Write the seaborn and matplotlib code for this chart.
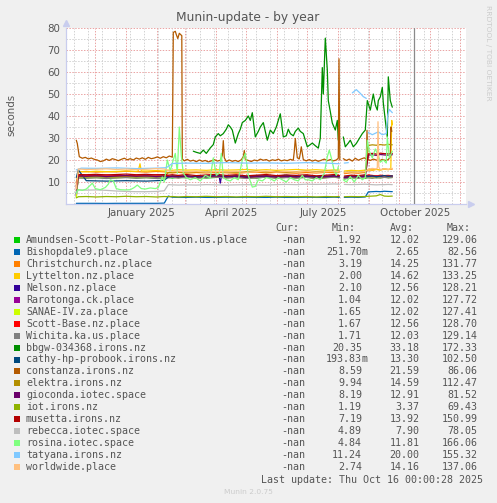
import numpy as np
import pandas as pd
import seaborn as sns
import matplotlib.pyplot as plt
from matplotlib.patches import Rectangle

nan = np.nan
start = pd.Timestamp("2025-01-01")   # day 0
now = pd.Timestamp("2025-10-16")

# day offsets (from 2025-01-01) shared by the flat-ish series
band_days = [-50, -48, -40, -30, -20, -10, 0, 10, 20, 30, 38, 42, 46, 52, 60, 70, 80, 90, 100, 110,
             120, 130, 140, 150, 160, 170, 180, 190, 200, 208, 213, 215, 218, 225, 232, 239, 242,
             246, 250, 254, 258, 262, 266]

amundsen = [4.5, 12.2, 12.0, 12.3, 11.9, 12.1, 12.4, 12.0, 12.2, 11.9, 12.3, 12.1, 11.8, 12.2, 11.9,
            12.4, 11.8, 12.1, 12.5, 11.9, 12.2, 11.8, 12.3, 12.0, 12.4, 11.9, 12.2, 11.7, 12.1, 12.5,
            12.0, nan, 11.4, 11.9, 12.3, 11.7, 12.1, 12.4, 11.9, 12.2, 12.5, 12.0, 12.3]
bishopdale = [0.3, 0.3, 0.3, 0.3, 0.25, 0.3, 0.3, 0.3, 0.3, 0.3, 0.4, 3.6, 3.1, 3.0, 3.0, 3.1, 3.0,
              3.0, 3.1, 3.0, 3.1, 3.0, 3.0, 3.1, 3.0, 3.0, 3.1, 3.0, 3.0, 3.1, 3.0, nan, 3.0, 3.1,
              3.0, 3.2, 5.5, 5.6, 5.7, 5.6, 5.8, 5.7, 5.6]
christchurch = [8.0, 14.6, 14.8, 14.5, 14.7, 14.6, 14.9, 14.7, 14.5, 14.8, 14.6, 14.3, 14.1, 14.4,
                14.0, 14.3, 14.1, 14.4, 14.2, 14.0, 14.3, 14.5, 14.1, 14.4, 14.2, 14.0, 14.3, 14.1,
                14.4, 14.2, 14.5, nan, 13.8, 14.2, 14.0, 14.4, 15.6, 15.4, 15.8, 15.5, 16.0, 15.7, 15.9]
rarotonga = [4.0, 12.4, 12.3, 12.5, 12.2, 12.4, 12.6, 12.3, 12.5, 12.2, 12.4, 12.1, 12.3, 12.0, 12.4,
             11.9, 12.2, 12.5, 12.0, 12.3, 11.8, 12.1, 12.4, 11.9, 12.2, 12.0, 12.3, 11.8, 12.1, 12.4,
             12.0, nan, 11.7, 12.1, 11.9, 12.3, 12.7, 12.4, 12.6, 12.2, 12.5, 12.3, 12.6]
sanae = [3.0, 11.9, 11.8, 12.0, 11.7, 11.9, 12.1, 11.8, 12.0, 11.7, 11.9, 12.0, 12.2, 11.9, 12.3,
         11.8, 12.1, 12.4, 11.9, 12.2, 11.7, 12.0, 12.3, 11.8, 12.1, 11.9, 12.2, 11.7, 12.0, 12.3,
         11.9, nan, 11.6, 12.0, 11.8, 12.2, 12.0, 11.8, 12.1, 11.9, 12.2, 12.0, 12.1]
scott_base = [6.0, 13.0, 13.1, 12.9, 13.2, 13.0, 12.8, 13.1, 13.0, 13.3, 13.1, 12.8, 12.5, 12.9, 12.3,
              12.6, 12.2, 12.7, 12.4, 12.8, 12.3, 12.6, 12.9, 12.4, 12.7, 12.3, 12.8, 12.5, 12.2, 12.6,
              12.9, nan, 12.0, 12.6, 12.3, 12.8, 13.2, 13.0, 12.7, 13.1, 12.9, 13.0, 12.8]
wichita = [5.0, 11.8, 11.7, 11.9, 11.6, 11.8, 12.0, 11.7, 11.9, 11.6, 11.8, 11.9, 12.1, 11.8, 12.2,
           11.7, 12.0, 12.3, 11.8, 12.1, 11.6, 11.9, 12.2, 11.7, 12.0, 11.8, 12.1, 11.6, 11.9, 12.2,
           11.8, nan, 11.5, 11.9, 11.7, 12.1, 11.9, 11.7, 12.0, 11.8, 12.1, 11.9, 12.0]
cathy = [12.0, 15.5, 10.6, 10.5, 10.4, 10.5, 10.6, 10.5, 10.4, 10.6, 10.8, 12.3, 12.8, 12.5, 12.9,
         12.4, 12.7, 13.0, 12.6, 12.8, 12.4, 12.9, 12.6, 12.7, 13.1, 12.5, 12.8, 12.4, 12.7, 12.9,
         12.6, nan, 12.3, 12.7, 12.5, 12.9, 12.6, 12.8, 12.4, 12.7, 12.9, 12.6, 12.8]
elektra = [10.0, 12.5, 12.4, 12.6, 12.5, 12.4, 12.6, 12.5, 12.7, 12.6, 12.8, 14.2, 14.5, 14.6, 14.4,
           14.7, 14.5, 14.8, 14.6, 14.5, 14.7, 14.9, 14.6, 14.8, 14.5, 14.7, 14.9, 14.6, 14.8, 15.0,
           14.7, nan, 14.3, 14.6, 14.4, 14.8, 26.6, 26.9, 26.7, 27.0, 26.8, 27.1, 26.9]
gioconda = [8.2, 12.7, 12.6, 12.8, 12.5, 12.7, 12.9, 12.6, 12.8, 12.5, 12.7, 12.4, 12.6, 12.3, 12.7,
            12.2, 12.5, 12.8, 12.3, 12.6, 12.1, 12.4, 12.7, 12.2, 12.5, 12.3, 12.6, 12.1, 12.4, 12.7,
            12.3, nan, 12.0, 12.4, 12.2, 12.6, 22.2, 22.4, 22.1, 22.5, 22.3, 22.2, 22.4]
iot = [2.8, 3.3, 3.4, 3.2, 3.4, 3.3, 3.5, 3.3, 3.4, 3.2, 3.4, 3.3, 3.4, 3.2, 3.4, 3.3, 3.5, 3.3,
       3.4, 3.2, 3.4, 3.3, 3.5, 3.3, 3.4, 3.3, 3.4, 3.2, 3.4, 3.3, 3.4, nan, 3.3, 3.4, 3.3, 3.4, 3.5,
       3.6, 3.7, 4.3, 3.6, 3.5, 3.6]
musetta = [7.2, 13.4, 13.3, 13.5, 13.2, 13.4, 13.6, 13.3, 13.5, 13.2, 13.4, 13.1, 13.3, 13.0, 13.4,
           12.9, 13.2, 13.5, 13.0, 13.3, 12.8, 13.1, 13.4, 12.9, 13.2, 13.0, 13.3, 12.8, 13.1, 13.4,
           13.0, nan, 12.7, 13.1, 12.9, 13.3, 22.8, 23.0, 22.7, 23.1, 22.9, 22.8, 23.0]
rebecca = [4.9, 6.4, 6.3, 6.4, 6.2, 5.9, 5.7, 5.6, 5.6, 5.7, 6.0, 8.8, 8.7, 8.6, 8.7, 8.6, 8.8, 8.7,
           8.6, 8.7, 8.8, 8.7, 8.6, 8.8, 8.9, 8.8, 9.0, 8.9, 9.0, 9.1, 9.0, nan, 8.9, 8.8, 8.9, 9.0,
           8.9, 8.8, 8.7, 8.8, 8.8, 8.9, 8.8]

nelson_days = [-50, -48, -40, -30, -20, -10, 0, 10, 20, 30, 38, 42, 46, 52, 60, 70, 80, 90, 93, 94,
               95, 100, 110, 120, 130, 140, 150, 160, 170, 180, 190, 200, 208, 213, 215, 218, 225,
               232, 239, 242, 246, 250, 254, 258, 262, 266]
nelson = [3.5, 12.6, 12.5, 12.7, 12.4, 12.6, 12.8, 12.5, 12.7, 12.4, 12.6, 12.3, 12.5, 12.2, 12.6,
          12.1, 12.4, 12.3, 12.2, 9.5, 12.3, 12.6, 12.2, 12.5, 12.0, 12.4, 12.1, 12.5, 12.2, 12.6,
          12.0, 12.3, 12.7, 12.2, nan, 11.9, 12.4, 12.1, 12.6, 12.9, 12.5, 12.8, 12.3, 12.7, 12.4, 12.6]

lyttelton_days = [-50, -48, -40, -30, -20, -10, 0, 10, 12, 13.7, 15, 20, 30, 38, 42, 46, 52, 60, 70,
                  80, 90, 100, 110, 120, 130, 140, 150, 160, 170, 180, 190, 200, 208, 213, 215, 218,
                  225, 232, 239, 242, 246, 250, 254, 258, 262, 264.5, 265.4, 266]
lyttelton = [9.0, 14.8, 14.6, 14.9, 14.7, 14.8, 15.0, 14.8, 15.1, 18.3, 15.0, 15.0, 15.2, 15.0, 15.4,
             15.3, 15.6, 15.4, 15.5, 15.3, 15.6, 15.4, 15.5, 15.7, 15.4, 15.6, 15.3, 15.5, 15.7, 15.4,
             15.6, 15.3, 15.5, 15.4, nan, 15.0, 15.3, 15.1, 15.4, 15.6, 15.4, 15.7, 15.5, 15.8, 15.6,
             16.0, 38.0, 36.0]

worldwide_days = [-50, -48, -40, -30, -20, -10, 0, 10, 20, 30, 38, 42, 46, 52, 60, 70, 80, 90, 100,
                  110, 120, 130, 140, 150, 160, 170, 180, 190, 200, 208, 213, 215, 218, 225, 232,
                  239, 242, 246, 250, 251, 251.7, 252.5, 254, 258, 262, 266]
worldwide = [7.0, 15.9, 15.7, 15.8, 16.0, 15.7, 15.9, 15.6, 15.8, 16.1, 15.9, 15.2, 14.8, 15.0, 14.6,
             14.9, 14.5, 14.8, 14.6, 14.9, 14.4, 14.7, 15.0, 14.5, 14.8, 14.6, 14.9, 14.4, 14.7, 15.0,
             14.6, nan, 14.2, 14.6, 14.4, 14.8, 15.8, 16.2, 15.9, 16.5, 37.4, 16.8, 15.6, 16.0, 15.7, 16.2]

tatyana_days = [-50, -45, -30, -10, 10, 30, 40, 46, 60, 80, 100, 120, 140, 160, 180, 200, 213, 215,
                218, 222, 224, 226, 230, 234, 237, 240, 241, 242, 246, 252, 256, 260, 261.5, 263, 266]
tatyana = [15.5, 16.3, 16.2, 16.4, 16.1, 16.3, 16.5, 18.4, 18.6, 18.5, 18.8, 18.6, 18.7, 18.5, 18.8,
           18.6, 18.3, nan, 18.6, 18.8, nan, 50.5, 52.0, 50.3, 48.8, 48.0, nan, 32.5, 31.5, 32.8,
           31.5, 32.0, 40.5, 43.0, 41.5]

constanza_days = [-50, -49, -47, -44, -41, -38, -35, -32, -29, -26, -23, -20, -17, -14, -11, -8, -5,
                  -2, 1, 4, 7, 10, 13, 16, 19, 22, 25, 28, 31, 34, 37, 40, 43, 46, 47, 49, 50, 51.5,
                  53, 55.5, 56, 58, 61, 64, 67, 70, 73, 76, 79, 82, 85, 88, 91, 94, 96, 97, 98, 100,
                  103, 106, 109, 112, 115, 117, 118, 119, 122, 125, 128, 131, 134, 137, 140, 143,
                  146, 149, 152, 155, 158, 161, 164, 167, 168, 169, 171, 173, 174, 175, 177, 180,
                  183, 186, 189, 192, 195, 198, 201, 204, 207, 210, 212, 212.7, 213.5, 215, 217,
                  220, 223, 226, 229, 232, 235, 238, 240, 240.7, 241.5, 244, 247, 250, 253, 256,
                  259, 262, 264, 264.5, 265.5]
constanza = [29.0, 27.5, 21.5, 20.8, 21.2, 20.5, 20.9, 20.3, 20.0, 19.3, 19.6, 20.4, 19.8, 20.6,
             20.2, 19.7, 20.3, 20.8, 20.1, 20.6, 20.0, 20.9, 20.4, 21.0, 20.3, 21.2, 20.6, 20.9, 21.4,
             20.8, 21.5, 21.0, 21.8, 21.3, 78.0, 78.5, 77.0, 75.2, 77.6, 76.5, 20.5, 19.6, 20.3, 19.5,
             19.9, 19.2, 20.0, 19.4, 19.8, 19.1, 19.6, 20.2, 19.5, 19.9, 22.0, 28.8, 21.0, 19.3, 20.0,
             19.4, 19.8, 19.3, 20.1, 21.5, 24.3, 20.3, 19.8, 19.3, 20.0, 19.6, 20.4, 19.9, 20.2, 19.5,
             20.1, 19.8, 20.4, 19.6, 20.0, 19.7, 20.3, 19.9, 24.0, 29.8, 21.0, 20.5, 23.0, 26.0, 20.2,
             19.6, 20.2, 19.5, 20.0, 19.4, 19.9, 20.4, 19.7, 20.2, 19.6, 20.0, 20.8, 66.0, 20.0, nan,
             20.6, 19.8, 20.4, 19.5, 20.8, 19.9, 20.5, 21.0, 20.3, 33.5, 20.2, 19.8, 20.4, 20.0, 19.6,
             20.3, 19.8, 20.2, 21.5, 35.0, 33.0]

bbgw_days = [67, 70, 74, 77, 80, 84, 87, 89, 92, 94, 97, 100, 102, 104, 106, 109, 112, 114, 116, 119,
             122, 124, 126, 129, 132, 134, 137, 139, 141, 144, 147, 150, 152, 154, 157, 160, 162,
             164, 167, 169, 172, 174, 177, 179, 181, 184, 186, 189, 192, 194, 196, 197, 199, 201,
             202, 204, 206, 209, 211, 212, 214, 217, 219, 222, 224, 227, 230, 232, 236, 239, 241,
             244, 247, 249, 251, 252, 254, 256, 257, 259, 261, 262, 264, 266]
bbgw = [24, 23.5, 23, 24.5, 23, 25.5, 27, 30.5, 32, 31, 32, 34, 36, 35, 33.6, 27.7, 32, 34, 37, 38,
        40, 38, 41.5, 30.5, 33, 35, 37, 33, 29, 33.6, 32, 35, 38, 41, 30.5, 31, 34, 32, 31, 33, 34.5,
        33, 32, 29, 26, 27, 27.7, 26.5, 25.4, 30, 62, 50, 75.4, 61, 47, 42, 36.8, 33.6, 38, 29, nan,
        30.5, 26, 27.7, 29, 26, 27.5, 29, 32, 33.6, 47, 42.7, 50, 45, 42.7, 47, 48.7, 53, 46, 38,
        30.5, 57.8, 47, 44]

rosina_days = [-50, -48, -44, -40, -36, -34, -31, -26, -21, -18, -16, -13, -10, -6, -1, 4, 8, 11, 15,
               19, 24, 29, 32, 36, 38, 41, 44, 46, 49, 51, 53, 55, 57, 60, 64, 69, 74, 79, 84, 87,
               90, 93, 95, 97, 100, 104, 108, 112, 116, 119, 122, 126, 129, 132, 136, 140, 144,
               148, 152, 156, 160, 164, 168, 172, 176, 179, 182, 186, 190, 194, 198, 201, 203, 205,
               208, 210, 212, 214, 217, 220, 224, 228, 232, 236, 239, 241, 243, 246, 249, 252, 254,
               257, 260, 261, 263, 266]
rosina = [5, 6.5, 6.2, 6.8, 8.5, 9.5, 7, 6.5, 7.5, 9, 11, 10.5, 7, 6.5, 6.4, 6.5, 7.5, 8.6, 7, 6.8,
          7.3, 7, 7.5, 12.3, 10, 20, 15, 18.6, 23, 14, 35, 22, 14, 12, 11, 12, 10.5, 13, 12, 21, 13,
          14, 23, 12, 11, 10.5, 12, 11, 20, 23, 13, 7.7, 8, 11, 10.5, 12, 11.5, 10.5, 12, 11, 10, 12,
          11, 10.5, 13, 11, 11, 10.5, 12, 11, 14, 21.5, 24.5, 21, 15, 13, 17, nan, 11, 10, 12.5, 10,
          13, 11, 12, 29, 24, 21, 25, 22, 19, 20, 18.6, 30.5, 21, 24]

names = ["Amundsen-Scott-Polar-Station.us.place", "Bishopdale9.place", "Christchurch.nz.place",
         "Lyttelton.nz.place", "Nelson.nz.place", "Rarotonga.ck.place", "SANAE-IV.za.place",
         "Scott-Base.nz.place", "Wichita.ka.us.place", "bbgw-034368.irons.nz",
         "cathy-hp-probook.irons.nz", "constanza.irons.nz", "elektra.irons.nz",
         "gioconda.iotec.space", "iot.irons.nz", "musetta.irons.nz", "rebecca.iotec.space",
         "rosina.iotec.space", "tatyana.irons.nz", "worldwide.place"]
colors = ["#00CC00", "#0066B3", "#FF8000", "#FFCC00", "#330099", "#990099", "#CCFF00", "#FF0000",
          "#808080", "#008F00", "#00487D", "#B35A00", "#B38F00", "#6B006B", "#8FB300", "#B30000",
          "#BEBEBE", "#80FF80", "#80C9FF", "#FFC080"]
cur_col = ["-nan"] * 20
min_col = ["1.92", "251.70m", "3.19", "2.00", "2.10", "1.04", "1.65", "1.67", "1.71", "20.35",
           "193.83m", "8.59", "9.94", "8.19", "1.19", "7.19", "4.89", "4.84", "11.24", "2.74"]
avg_col = ["12.02", "2.65", "14.25", "14.62", "12.56", "12.02", "12.02", "12.56", "12.03", "33.18",
           "13.30", "21.59", "14.59", "12.91", "3.37", "13.92", "7.90", "11.81", "20.00", "14.16"]
max_col = ["129.06", "82.56", "131.77", "133.25", "128.21", "127.72", "127.41", "128.70", "129.14",
           "172.33", "102.50", "86.06", "112.47", "81.52", "69.43", "150.99", "78.05", "166.06",
           "155.32", "137.06"]

series_data = [
    (band_days, amundsen), (band_days, bishopdale), (band_days, christchurch),
    (lyttelton_days, lyttelton), (nelson_days, nelson), (band_days, rarotonga),
    (band_days, sanae), (band_days, scott_base), (band_days, wichita), (bbgw_days, bbgw),
    (band_days, cathy), (constanza_days, constanza), (band_days, elektra),
    (band_days, gioconda), (band_days, iot), (band_days, musetta), (band_days, rebecca),
    (rosina_days, rosina), (tatyana_days, tatyana), (worldwide_days, worldwide),
]

W, H = 497, 503
TXT = "#555555"

sns.set_style("white", {"axes.facecolor": "white", "figure.facecolor": "#f0f0f0"})
plt.rcParams["font.family"] = ["DejaVu Sans"]


def fx(x):
    return x / W


def fy(y):
    return 1 - y / H


def to_frame(days, vals):
    df = pd.DataFrame({"day": days, "value": vals})
    df["seg"] = df["value"].isna().cumsum()
    df = df.dropna()
    df["date"] = start + pd.to_timedelta(df["day"], unit="D")
    return df


fig = plt.figure(figsize=(W / 100, H / 100), dpi=100, facecolor="#f0f0f0")
ax = fig.add_axes([fx(66), fy(204), 400 / W, 176 / H])

# grid: grey every 5 / two weeks, red every 10 / month
for v in range(5, 80, 10):
    ax.axhline(v, color="#d2d2d2", lw=0.7, ls=(0, (1.5, 1.5)), zorder=0)
for v in range(10, 81, 10):
    ax.axhline(v, color="#eaa4a4", lw=0.7, ls=(0, (1.5, 1.5)), zorder=0)
for d in pd.date_range("2024-11-10", "2025-12-07", freq="14D"):
    ax.axvline(d, color="#d2d2d2", lw=0.7, ls=(0, (1.5, 1.5)), zorder=0)
for d in pd.date_range("2024-12-01", "2025-12-01", freq="MS"):
    ax.axvline(d, color="#eaa4a4", lw=0.7, ls=(0, (1.5, 1.5)), zorder=0)

for (days, vals), c in zip(series_data, colors):
    df = to_frame(days, vals)
    sns.lineplot(data=df, x="date", y="value", units="seg", estimator=None, sort=False,
                 color=c, lw=0.9, ax=ax, legend=False)

ax.axvline(now, color="#8a8a8a", lw=0.9, zorder=3)

ax.set_xlim(start - pd.Timedelta(days=60.3), start + pd.Timedelta(days=339.7))
ax.set_ylim(0, 80)
ax.set_xlabel("")
ax.set_ylabel("")

months = pd.to_datetime(["2025-01-01", "2025-04-01", "2025-07-01", "2025-10-01"])
mids = [m + (m + pd.offsets.MonthBegin(1) - m) / 2 for m in months]
ax.set_xticks(mids)
ax.set_xticklabels([m.strftime("%B %Y") for m in months])
ax.set_yticks(range(10, 81, 10))
ax.tick_params(axis="both", length=0, labelsize=7.4, labelcolor=TXT)
ax.tick_params(axis="x", pad=3)
ax.tick_params(axis="y", pad=4)

for s in ["top", "right"]:
    ax.spines[s].set_visible(False)
for s in ["left", "bottom"]:
    ax.spines[s].set_color("#c9cdee")
    ax.spines[s].set_linewidth(0.9)
ax.plot([1.012], [0], marker=">", ms=4.5, color="#c9cdee", transform=ax.transAxes, clip_on=False)
ax.plot([0], [1.03], marker="^", ms=4.5, color="#c9cdee", transform=ax.transAxes, clip_on=False)

fig.text(fx(248), fy(18), "Munin-update - by year", ha="center", va="center", fontsize=8.8,
         color=TXT)
fig.text(fx(11), fy(115), "seconds", rotation=90, ha="center", va="center", fontsize=7.4, color=TXT)
fig.text(fx(488), fy(53), "RRDTOOL / TOBI OETIKER", rotation=-90, ha="center", va="center",
         fontsize=5.4, color="#cccccc")

mono = {"family": "DejaVu Sans Mono", "size": 7.2, "color": TXT}
for label, xr in zip(["Cur:", "Min:", "Avg:", "Max:"], [299, 356, 413.5, 470.5]):
    fig.text(fx(xr), fy(228), label, ha="right", va="center", fontdict=mono)

for i, name in enumerate(names):
    y = 240 + i * 11.95
    fig.patches.append(Rectangle((fx(14), fy(y + 3)), 6 / W, 6 / H, transform=fig.transFigure,
                                 facecolor=colors[i], edgecolor="none"))
    fig.text(fx(26), fy(y), name, ha="left", va="center", fontdict=mono)
    fig.text(fx(305), fy(y), cur_col[i], ha="right", va="center", fontdict=mono)
    mn = min_col[i]
    if mn.endswith("m"):
        fig.text(fx(362), fy(y), mn[:-1], ha="right", va="center", fontdict=mono)
        fig.text(fx(362), fy(y), "m", ha="left", va="center", fontdict=mono)
    else:
        fig.text(fx(362), fy(y), mn, ha="right", va="center", fontdict=mono)
    fig.text(fx(419.5), fy(y), avg_col[i], ha="right", va="center", fontdict=mono)
    fig.text(fx(477.5), fy(y), max_col[i], ha="right", va="center", fontdict=mono)

fig.text(fx(483), fy(480), "Last update: Thu Oct 16 00:00:28 2025", ha="right", va="center",
         fontdict=mono)
fig.text(fx(248), fy(492), "Munin 2.0.75", ha="center", va="center", fontsize=5.4, color="#cccccc")

fig.savefig("out.png", dpi=100, facecolor=fig.get_facecolor())
